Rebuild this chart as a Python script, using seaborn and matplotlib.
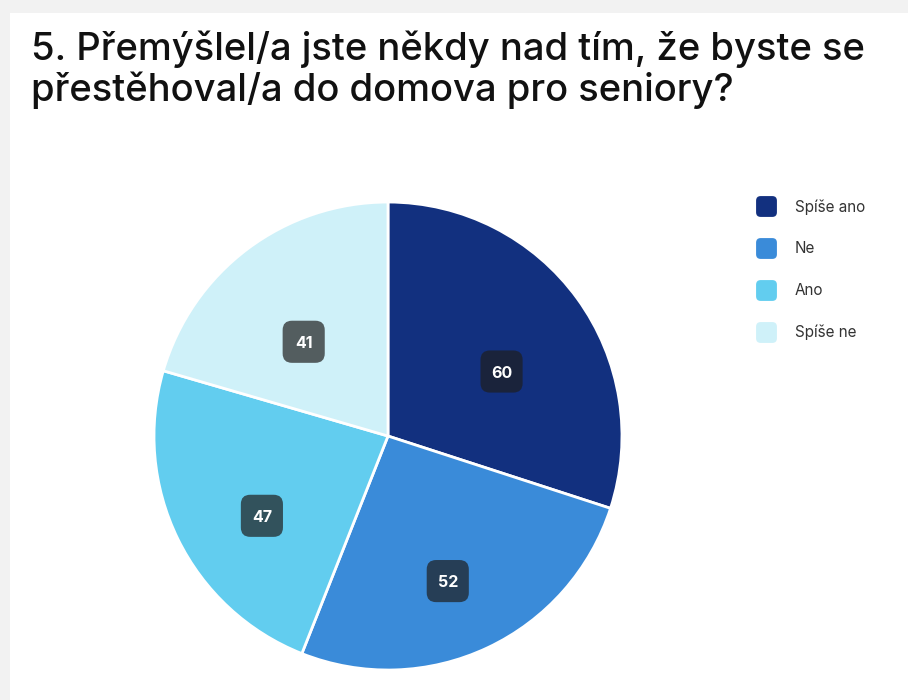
import numpy as np
import matplotlib
matplotlib.use("Agg")
import matplotlib.pyplot as plt
import seaborn as sns
from matplotlib.patches import Rectangle, FancyBboxPatch
from matplotlib.lines import Line2D

# data
categories = ["Spíše ano", "Ne", "Ano", "Spíše ne"]
counts = [60, 52, 47, 41]
colors = ["#12307F", "#3A8BD9", "#62CDEF", "#CFF1F9"]
title = "5. Přemýšlel/a jste někdy nad tím, že byste se\npřestěhoval/a do domova pro seniory?"

sns.set_theme(style="white")
plt.rcParams['font.family'] = ['Inter', 'DejaVu Sans']
palette = sns.color_palette(colors)

fig = plt.figure(figsize=(9.08, 7), dpi=100)
fig.patch.set_facecolor("#f2f2f2")
# white card behind everything
fig.patches.append(Rectangle((10 / 908, 0), 1, 1 - 13 / 700, transform=fig.transFigure,
                             facecolor="white", edgecolor="none", zorder=-5))

ax = fig.add_axes([0.1696, 0.0428, 0.5154, 0.6686])
ax.patch.set_alpha(0)
wedges, _ = ax.pie(counts, colors=palette, startangle=90, counterclock=False,
                   radius=1, wedgeprops=dict(edgecolor="white", linewidth=2))
ax.set_xlim(-1.0, 1.0)
ax.set_ylim(-1.0, 1.0)
ax.set_aspect("equal")
ax.axis("off")

# value labels in rounded boxes (slightly below the mid-angle point)
bw = 0.18
for w, v in zip(wedges, counts):
    ang = np.deg2rad((w.theta1 + w.theta2) / 2)
    x = 0.6 * np.cos(ang)
    y = 0.6 * np.sin(ang) - 0.077
    ax.add_patch(FancyBboxPatch((x - bw / 2, y - bw / 2), bw, bw,
                                boxstyle="round,pad=0,rounding_size=0.04",
                                facecolor="#1e1e1e", alpha=0.7, edgecolor="none",
                                zorder=3))
    ax.text(x, y, str(v), ha="center", va="center_baseline", fontsize=11.5,
            fontweight="bold", color="white", zorder=4)

# rounded square marker for the legend
rsq = FancyBboxPatch((-0.5, -0.5), 1, 1, boxstyle="round,pad=0,rounding_size=0.22").get_path()
handles = [Line2D([0], [0], marker=rsq, linestyle="none", markersize=15,
                  markerfacecolor=c, markeredgecolor="none") for c in palette]
fig.legend(handles, categories, loc="upper left", bbox_to_anchor=(0.812, 0.735),
           frameon=False, fontsize=11, labelspacing=1.75, handletextpad=0.85,
           labelcolor="#333333")

fig.text(0.034, 0.957, title, ha="left", va="top", fontsize=27.5,
         color="#111111", linespacing=1.13, fontweight="medium")

fig.savefig("out.png", dpi=100, facecolor=fig.get_facecolor())
